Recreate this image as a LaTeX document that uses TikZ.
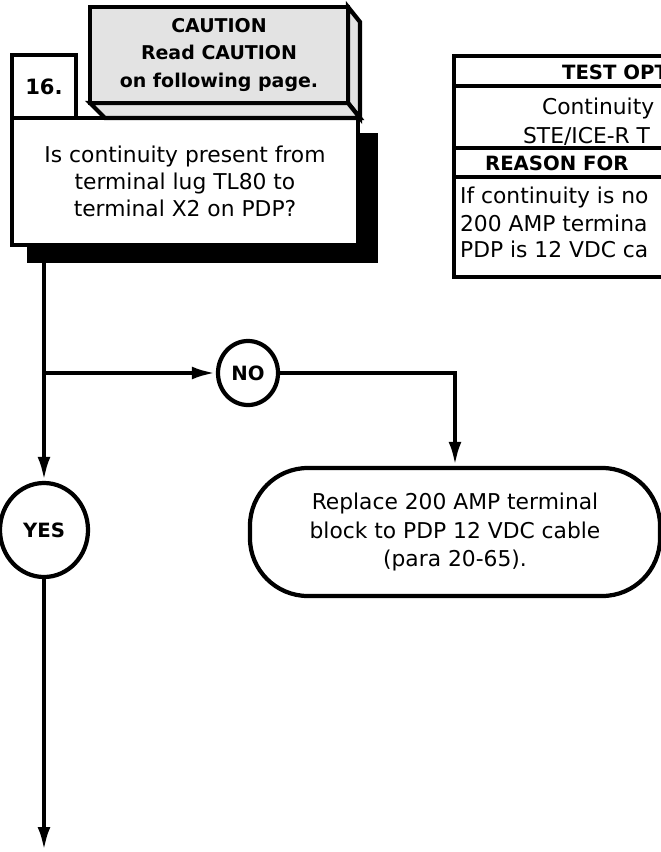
\documentclass[tikz,border=0pt]{standalone}
\usepackage{fontspec}
\setmainfont{DejaVu Sans}
\usepackage{tikz}
\usetikzlibrary{arrows.meta,calc,shapes.geometric,positioning}

\begin{document}
\begin{tikzpicture}[
    x=0.025cm, y=-0.025cm,
    line width=3pt,
    txt/.style={font=\fontsize{15.5}{19.2}\selectfont, align=center},
    numbox/.style={rectangle, draw=black, fill=white, minimum width=1.6cm, minimum height=1.575cm, font=\fontsize{15}{19}\selectfont\bfseries},
    question/.style={rectangle, draw=black, fill=white, minimum width=8.65cm, minimum height=3.175cm, txt},
    caution/.style={rectangle, draw=black, fill=gray!22, minimum width=6.45cm, minimum height=2.4cm, txt, font=\fontsize{13.5}{19.4}\selectfont\bfseries},
    face/.style={draw=black, fill=gray!22, line join=miter},
    answer/.style={ellipse, draw=black, fill=white, font=\fontsize{14}{18}\selectfont\bfseries, inner sep=0pt},
    action/.style={rectangle, rounded corners=1.45cm, draw=black, fill=white, minimum width=10.25cm, minimum height=3.2cm, txt, font=\fontsize{15.5}{20.6}\selectfont},
    cell/.style={anchor=west, inner sep=0pt, font=\fontsize{15.5}{18}\selectfont},
    head/.style={cell, font=\fontsize{14}{18}\selectfont\bfseries},
    arrow/.style={-{Latex[length=6mm,width=3.2mm]}}
]
    \useasboundingbox (0,0) rectangle (661,852);

    % question block with shadow
    \fill[black] (27,133) rectangle (378,263);
    \node (quest) [question] at (185,181.5) {Is continuity present from\\terminal lug TL80 to\\terminal X2 on PDP?};
    \node (num) [numbox] at (44,86.5) {16.};

    % caution box
    \filldraw[face] (348,7) -- (360,22) -- (360,118) -- (348,103) -- cycle;
    \filldraw[face] (90,103) -- (348,103) -- (360,118) -- (105,118) -- cycle;
    \node (caution) [caution] at (219,55) {CAUTION\\Read CAUTION\\on following page.};

    % test table, runs off the page
    \begin{scope}
        \clip (0,0) rectangle (661,852);
        \draw (454,56) rectangle (720,277);
        \draw (454,86) -- (720,86);
        \draw (454,148) -- (720,148);
        \draw (454,177) -- (720,177);
        \node (topt) [head] at (560,72) {TEST OPT};
        \node (cont) [cell] at (540,108) {Continuity};
        \node (ste) [cell] at (521,136) {STE/ICE-R T};
        \node (reas) [head] at (483,163) {REASON FOR};
        \node (if) [cell] at (458,197) {If continuity is no};
        \node (amp) [cell] at (458,223) {200 AMP termina};
        \node (pdp) [cell] at (458,249) {PDP is 12 VDC ca};
    \end{scope}

    % answers
    \node (no) [answer, minimum width=1.5cm, minimum height=1.6cm] at (248,373) {NO};
    \node (yes) [answer, minimum width=2.2cm, minimum height=2.35cm] at (44,530) {YES};
    \node (fix) [action] at (455,532) {Replace 200 AMP terminal\\block to PDP 12 VDC cable\\(para 20-65).};

    \coordinate (split) at (44,373);
    \coordinate (next) at (44,851);

    \draw (quest.south -| yes.north) -- (split);
    \draw [arrow] (split) -- (yes.north);
    \draw [arrow] (split) -- (no.west);
    \draw [arrow] (no.east) -| (fix.north);
    \draw [arrow] (yes.south) -- (next);
\end{tikzpicture}
\end{document}
